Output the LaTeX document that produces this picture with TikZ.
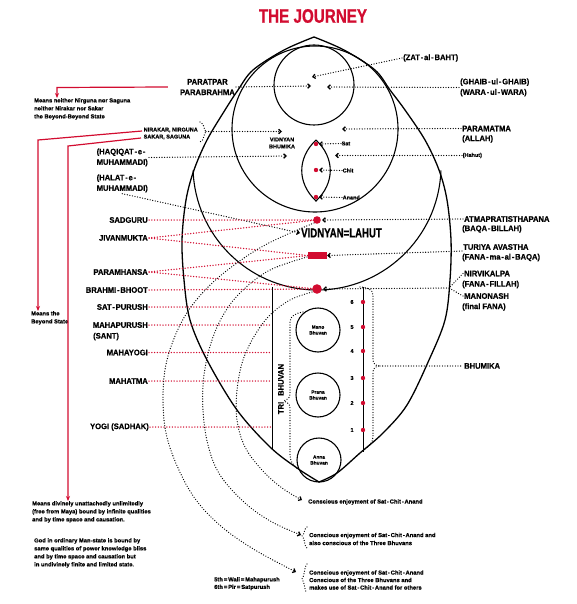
\documentclass[tikz,border=0pt]{standalone}
\usepackage{fontspec}
\setmainfont{Liberation Sans}[FakeBold=0.4]
\newfontfamily\labfont[FakeStretch=0.95, FakeBold=0.6]{Liberation Sans}
\newfontfamily\titfont[FakeStretch=0.78, FakeBold=0.6]{Liberation Sans}
\newfontfamily\vlfont[FakeStretch=0.74, FakeBold=0.6]{Liberation Sans}
\usetikzlibrary{arrows.meta}
\definecolor{jred}{RGB}{210,12,48}
\newcommand{\jhy}{\kern0.8pt-\kern0.8pt}
\begin{document}
\begin{tikzpicture}[x=1pt,y=-1pt,
  lab/.style={font=\labfont\bfseries\fontsize{8}{10.5}\selectfont, inner sep=1pt},
  sml/.style={font=\bfseries\fontsize{5.8}{8}\selectfont, inner sep=0pt, align=left},
  tny/.style={font=\bfseries\fontsize{5.5}{7}\selectfont, inner sep=0.5pt, align=left},
  outl/.style={line width=1.3pt},
  circ/.style={line width=1.1pt},
  thinl/.style={line width=1pt},
  dotl/.style={line width=1.3pt, line cap=round, dash pattern=on 0pt off 2.6pt},
  reddot/.style={jred, line width=1.5pt, line cap=round, dash pattern=on 0pt off 2.8pt},
  arr/.style={-{Straight Barb[length=2.4pt,width=4.4pt,line cap=butt]}},
  redarr/.style={jred, line width=1.2pt, -{Stealth[length=5pt,width=4pt]}},
  bhuv/.style={circle, draw, line width=1.1pt, minimum size=44pt, inner sep=0pt, align=center, font=\bfseries\fontsize{4.8}{5.8}\selectfont}
]
\useasboundingbox (0,0) rectangle (576,604);

% title
\node[font=\titfont\bfseries\fontsize{19.5}{20}\selectfont, text=jred, inner sep=0pt] (title) at (313,16) {THE JOURNEY};

% outer drop shape
\draw[outl] plot[smooth, tension=0.55] coordinates {(314,37) (284,50) (253,70) (238,90) (225,110) (207,140) (194,170) (186,200) (182,240) (184,280) (190,320) (207,360) (237,410) (270,447) (297,468) (319,482)};
\draw[outl] plot[smooth, tension=0.55] coordinates {(314,37) (344,50) (375,70) (390,90) (405,110) (425,140) (439,170) (447,200) (451,240) (450,280) (445,320) (429,360) (407,405) (383,433) (360,453) (337,473) (319,482)};
% inner lower arc (Lahut)
\draw[circ] (317,166) ++(2:124) arc[start angle=2, end angle=178, radius=124];
% circles
\draw[circ] (314,85) circle[radius=40];
\draw[circ] (315,129) circle[radius=83];
% lens
\draw[circ] (316,140) .. controls (297,158) and (297,183) .. (316,201) .. controls (335,183) and (335,158) .. (316,140);

% coordinates
\coordinate (zatT) at (312,77);
\coordinate (paratT) at (311,86);
\coordinate (ghaibT) at (327,87);
\coordinate (paramT) at (342,129);
\coordinate (hahutT) at (335,155.5);
\coordinate (haqT) at (287,156);
\coordinate (nirT) at (282,131.5);
\coordinate (braceN) at (206,131.5);
\coordinate (dotA) at (317,220);
\coordinate (rectW) at (308,255.5);
\coordinate (rectE) at (327,255.5);
\coordinate (dotC) at (317,289);
\coordinate (satD) at (316,144);
\coordinate (chitD) at (316,170);
\coordinate (anandD) at (316,197);
\coordinate (triT) at (272,287);
\coordinate (triB) at (272,450);
\coordinate (bhT) at (363,287);
\coordinate (bhB) at (363,452);
\coordinate (bhP) at (380,366);
\coordinate (J) at (449,288);

% top labels
\node[lab, anchor=west] (zat) at (402,58) {(ZAT\jhy al\jhy BAHT)};
\draw[dotl, arr] (zat.west) -- (zatT);
\node[lab, align=center, anchor=east] (parat) at (236,87) {PARATPAR\\PARABRAHMA};
\draw[dotl, arr] (parat.east) -- (paratT);
\node[lab, align=left, anchor=west] (ghaib) at (459,87.5) {(GHAIB\jhy ul\jhy GHAIB)\\(WARA\jhy ul\jhy WARA)};
\draw[dotl, arr] (ghaib.west) -- (ghaibT);

\node[sml, anchor=north west] (neither) at (34,98) {Means neither Nirguna nor Saguna\\neither Nirakar nor Sakar\\the Beyond-Beyond State};
\coordinate (rc1) at (57,87.5);
\draw[redarr] ([xshift=-11pt]parat.west) -- (rc1) -- (rc1 |- neither.north);

\node[tny, anchor=west] (nirakar) at (143,133.5) {NIRAKAR, NIRGUNA\\SAKAR, SAGUNA};
\draw[dotl] (200,122) .. controls (205,124) and (203,129) .. (braceN) .. controls (203,134) and (205,140) .. (200,142);
\draw[dotl, arr] (braceN) -- (nirT);
\node[tny, align=center] (vbh) at (282,143) {VIDNYAN\\BHUMIKA};

\coordinate (n1) at (142,131);
\coordinate (n1c) at (38,140);
\coordinate (n2) at (141,138);
\coordinate (n2c) at (68,146);
\node[sml, anchor=north west] (beyond) at (31,311) {Means the\\Beyond State};
\draw[redarr] (n1) -- (n1c) -- (n1c |- beyond.north);
\node[sml, anchor=north west] (divine) at (32,501) {Means divinely unattachedly unlimitedly\\(free from Maya) bound by infinite qualities\\and by time space and causation.};
\draw[redarr] (n2) -- (n2c) -- (n2c |- divine.north);
\node[sml, anchor=north west] (godman) at (34,538) {God in ordinary Man-state is bound by\\same qualities of power knowledge bliss\\and by time space and causation but\\in undivinely finite and limited state.};

\node[lab, anchor=west] (param) at (461,128.5) {PARAMATMA};
\node[lab, anchor=west] (allah) at (461,139) {(ALLAH)};
\draw[dotl, arr] (param.west) -- (paramT);
\node[tny, anchor=west] (hahut) at (462,155.5) {(Hahut)};
\draw[dotl, arr] (hahut.west) -- (hahutT);

\node[lab, align=left, anchor=east] (haq) at (149,157.5) {(HAQIQAT\jhy e\jhy\\MUHAMMADI)};
\draw[dotl, arr] (haq.east) -- (haqT);
\node[lab, align=left, anchor=east] (halat) at (149,183.5) {(HALAT\jhy e\jhy\\MUHAMMADI)};
\node[font=\vlfont\bfseries\fontsize{13}{14}\selectfont, anchor=west, inner sep=1pt] (vl) at (300,233) {VIDNYAN=LAHUT};
\draw[dotl, arr] (halat.south) -- (vl.west);

% sat chit anand
\node[tny, anchor=west] (satl) at (341,143.5) {Sat};
\node[tny, anchor=west] (chitl) at (342,170.5) {Chit};
\node[tny, anchor=west] (anandl) at (342,197.5) {Anand};
\draw[dotl, arr] (satl.west) -- ([xshift=3pt]satD);
\draw[dotl, arr] (chitl.west) -- ([xshift=3pt]chitD);
\draw[dotl, arr] (anandl.west) -- ([xshift=3pt]anandD);

% left labels with red dotted lines
\node[lab, anchor=east] (sadguru) at (149,220) {SADGURU};
\node[lab, anchor=east] (jivan) at (149,238) {JIVANMUKTA};
\node[lab, anchor=east] (paramh) at (149,272) {PARAMHANSA};
\node[lab, anchor=east] (brahmi) at (149,290) {BRAHMI\jhy BHOOT};
\node[lab, anchor=east] (satp) at (149,307) {SAT\jhy PURUSH};
\node[lab, anchor=east] (mahap) at (149,325) {MAHAPURUSH};
\node[lab, anchor=west] (sant) at (92,336.5) {(SANT)};
\node[lab, anchor=east] (mahay) at (149,352.5) {MAHAYOGI};
\node[lab, anchor=east] (mahat) at (149,381) {MAHATMA};
\node[lab, anchor=east] (yogi) at (150,427) {YOGI (SADHAK)};
\draw[reddot] (sadguru.east) -- (dotA);
\draw[reddot] (jivan.east) -- (dotA);
\draw[reddot] (jivan.east) -- (rectW);
\draw[reddot] (paramh.east) -- (rectW);
\draw[reddot] (paramh.east) -- (dotC);
\draw[reddot] (brahmi.east) -- (dotC);
\draw[reddot] (satp.east) -- (satp.east -| triT);
\draw[reddot] (mahap.east) -- (mahap.east -| triT);
\draw[reddot] (mahay.east) -- (mahay.east -| triT);
\draw[reddot] (mahat.east) -- (mahat.east -| triT);
\draw[reddot] (yogi.east) -- (yogi.east -| triT);

% tri bhuvan
\draw[thinl] (triT) -- (triB);
\node[lab, rotate=90] (tribh) at (281,389) {TRI\hspace{6pt}BHUVAN};
\draw[dotl] (303,312) .. controls (296,313) and (290,316) .. (290,322) -- (290,394) .. controls (290,398) and (287,400) .. (284,401) .. controls (287,402) and (290,404) .. (290,408) -- (290,455) .. controls (290,461) and (293,465) .. (298,469);
\node[bhuv] (mano) at (318,330) {Mano\\Bhuvan};
\node[bhuv] (prana) at (318,395) {Prana\\Bhuvan};
\node[bhuv] (anna) at (319,460) {Anna\\Bhuvan};

% bhumika
\draw[thinl] (bhT) -- (bhB);
\foreach \n/\yy in {6/302,5/327,4/351,3/378,2/403,1/430}{
  \fill[jred] (363,\yy) circle[radius=2.2];
  \node[tny] (num\n) at (352,\yy) {\n};
}
\draw[dotl] (360,287) .. controls (366,287) and (373,289) .. (373,295) -- (373,360) .. controls (373,364) and (376,366) .. (bhP) .. controls (376,366) and (373,368) .. (373,372) -- (373,437) .. controls (373,443) and (368,447) .. (364,450);
\node[lab, anchor=west] (bhumika) at (463,366) {BHUMIKA};
\draw[dotl] (bhP) -- (bhumika.west);

% right labels
\node[lab, anchor=west] (atma) at (463,219) {ATMAPRATISTHAPANA};
\node[lab, anchor=west] (baqa) at (461,229) {(BAQA\jhy BILLAH)};
\draw[dotl, arr] (atma.west) -- ([xshift=5pt]dotA);
\node[lab, anchor=west] (turiya) at (462,247) {TURIYA AVASTHA};
\node[lab, anchor=west] (fanama) at (461,257.5) {(FANA\jhy ma\jhy al\jhy BAQA)};
\draw[dotl, arr] (turiya.south west) -- (rectE);
\node[lab, anchor=west] (nirv) at (463,273.5) {NIRVIKALPA};
\node[lab, anchor=west] (fanaf) at (461,284.5) {(FANA\jhy FILLAH)};
\node[lab, anchor=west] (manon) at (463,296) {MANONASH};
\node[lab, anchor=west] (finalf) at (461,307) {(final FANA)};
\draw[dotl] (nirv.west) -- (J);
\draw[dotl] (manon.west) -- (J);
\draw[dotl, arr] (J) -- ([xshift=6pt]dotC);

% dotted journey arcs
\draw[dotl, arr] plot[smooth, tension=0.6] coordinates {(314,223) (265,245) (225,272) (198,298) (180,325) (167,360) (163,395) (166,433) (178,468) (196,500) (222,527) (255,550) (296,572)};
\draw[dotl, arr] plot[smooth, tension=0.6] coordinates {(307,257) (270,270) (243,290) (225,312) (212,340) (204,375) (203,410) (208,445) (220,475) (245,503) (272,522) (301,535)};
\draw[dotl, arr] plot[smooth, tension=0.6] coordinates {(312,292) (290,300) (270,315) (255,335) (243,360) (237,390) (237,420) (245,447) (262,470) (282,488) (302,500)};

% red markers
\fill[jred] (dotA) circle[radius=3.8];
\fill[jred] (rectW |- 0,252) rectangle (rectE |- 0,259);
\fill[jred] (dotC) circle[radius=4.8];
\fill[jred] (satD) circle[radius=2.2];
\fill[jred] (chitD) circle[radius=2.2];
\fill[jred] (anandD) circle[radius=2.2];

% bottom texts
\node[sml, anchor=west] (cons1) at (308,502) {Conscious enjoyment of Sat\jhy Chit\jhy Anand};
\draw[dotl] (307,527) .. controls (304,528) and (305,534) .. (302,536) .. controls (305,538) and (304,546) .. (307,548);
\node[sml, anchor=west] (cons2) at (309,539) {Conscious enjoyment of Sat\jhy Chit\jhy Anand and\\also conscious of the Three Bhuvans};
\draw[dotl] (307,564) .. controls (304,566) and (305,576) .. (302,579) .. controls (305,582) and (304,591) .. (307,593);
\node[sml, anchor=west, font=\bfseries\fontsize{5.8}{7.5}\selectfont] (cons3) at (309,580) {Conscious enjoyment of Sat\jhy Chit\jhy Anand\\Conscious of the Three Bhuvans and\\makes use of Sat\jhy Chit\jhy Anand for others};
\node[sml, anchor=north west, font=\bfseries\fontsize{5.8}{7.5}\selectfont] (walis) at (214,577) {5th\,=\,Wali\,=\,Mahapurush\\6th\,=\,Pir\,=\,Satpurush};
\end{tikzpicture}
\end{document}
